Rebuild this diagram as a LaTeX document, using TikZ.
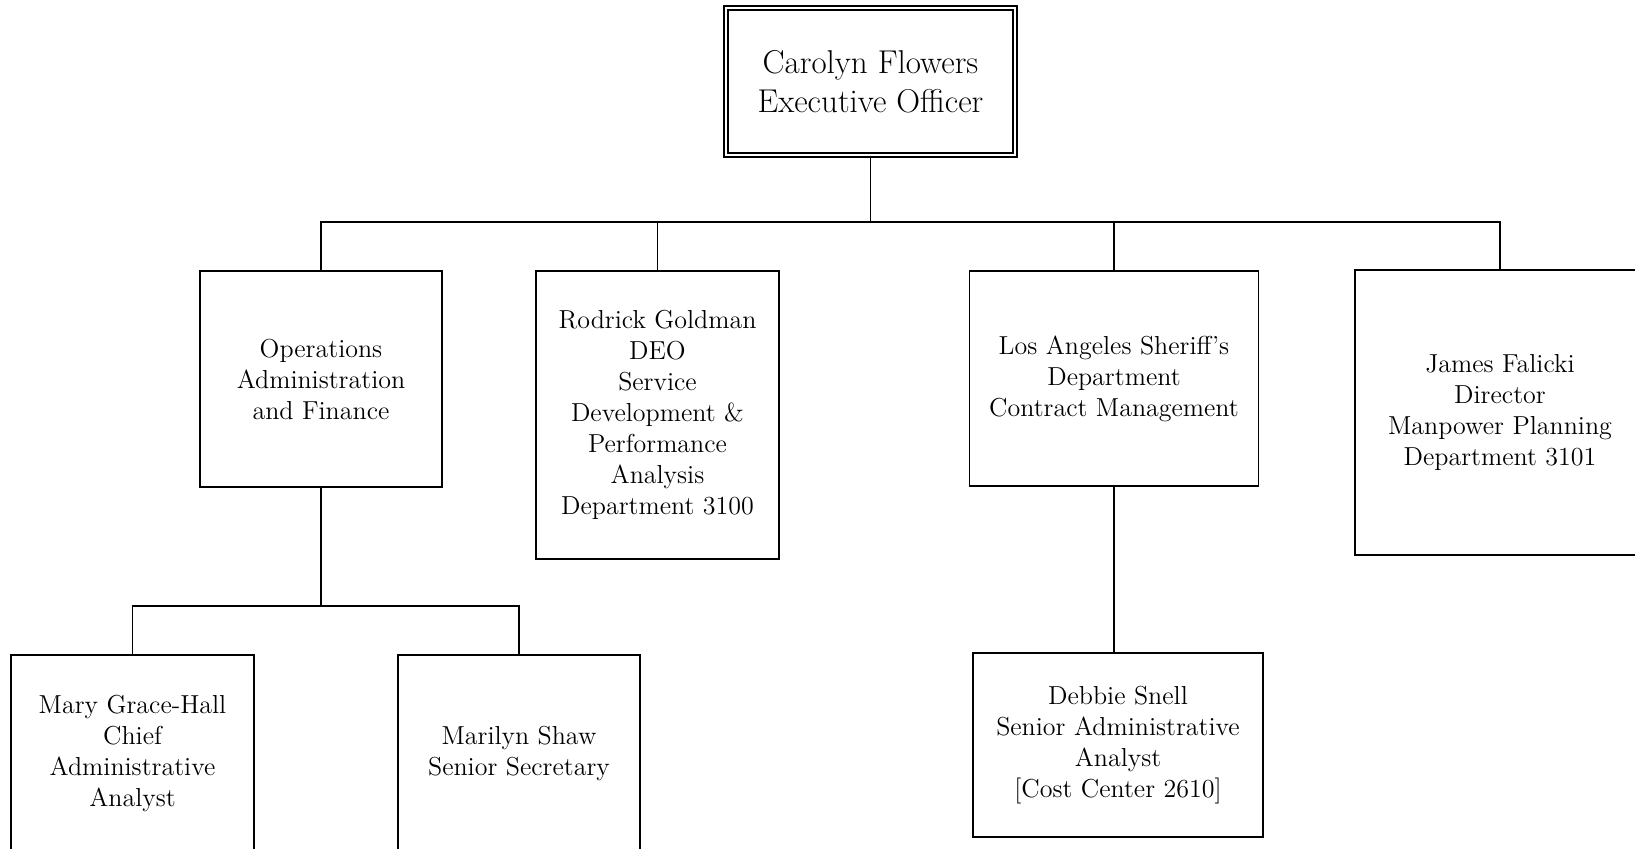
\documentclass[tikz,border=0pt]{standalone}
\usepackage{tikz}
\begin{document}
\begin{tikzpicture}[x=0.5pt,y=-0.5pt]
\tikzstyle{every node}+=[inner sep=0pt]
\tikzstyle{unitbox}=[draw=black, line width=0.9pt, align=center, font=\fontsize{13}{15.5}\selectfont]
\tikzstyle{link}=[black, line width=0.9pt]
\clip (0,0) rectangle (1635,848);
\fill [white] (0,0) rectangle (1635,848);
\node [unitbox, line width=0.7pt, double, double distance=1.2pt, minimum width=144.5pt, minimum height=73.5pt, font=\fontsize{16.5}{19.3}\selectfont] (exec) at (870.5,81.5) {Carolyn Flowers\\Executive Officer};
\node [unitbox, minimum width=121pt, minimum height=108pt] (ops) at (321,379) {Operations\\Administration\\and Finance};
\node [unitbox, minimum width=121.5pt, minimum height=144pt] (rod) at (657.5,415) {Rodrick Goldman\\DEO\\Service\\Development \&\\Performance\\Analysis\\Department 3100};
\node [unitbox, minimum width=144.5pt, minimum height=107.5pt] (lasd) at (1114,378.5) {Los Angeles Sheriff's\\Department\\Contract Management};
\node [unitbox, minimum width=145pt, minimum height=142.5pt] (james) at (1500,412.5) {James Falicki\\Director\\Manpower Planning\\Department 3101};
\node [unitbox, minimum width=121.5pt, minimum height=98pt] (mary) at (132.5,753) {Mary Grace-Hall\\Chief\\Administrative\\Analyst};
\node [unitbox, minimum width=121pt, minimum height=98pt] (shaw) at (519,753) {Marilyn Shaw\\Senior Secretary};
\node [unitbox, minimum width=145pt, minimum height=92pt] (snell) at (1118,745) {Debbie Snell\\Senior Administrative\\Analyst\\{[Cost Center 2610]}};
\coordinate (bus) at (0,222);
\coordinate (subbus) at (0,606);
\draw [link] (exec.south) -- (exec.south |- bus) -| (ops.north);
\draw [link] (exec.south |- bus) -| (rod.north);
\draw [link] (exec.south |- bus) -| (lasd.north);
\draw [link] (exec.south |- bus) -| (james.north);
\draw [link] (ops.south) -- (ops.south |- subbus) -| (mary.north);
\draw [link] (ops.south |- subbus) -| (shaw.north);
\draw [link] (lasd.south) -- (lasd.south |- snell.north);
\end{tikzpicture}
\end{document}
